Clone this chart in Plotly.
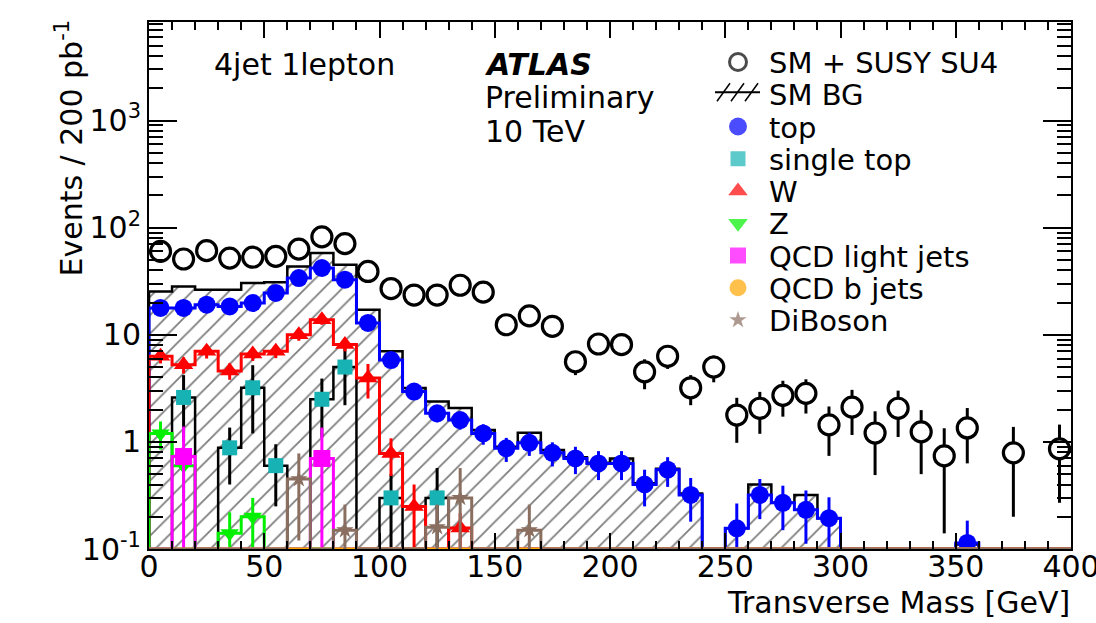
import numpy as np
import plotly.graph_objects as go

# ---------------- data ----------------
bin_low_edges = [0, 10, 20, 30, 40, 50, 60, 70, 80, 90,
                 100, 110, 120, 130, 140, 150, 160, 170, 180, 190,
                 200, 210, 220, 230, 240, 250, 260, 270, 280, 290,
                 300, 310, 320, 330, 340, 350, 360, 370, 380, 390]
bin_width = 10

sm_susy = [60, 51, 61, 52, 53, 54, 63, 82, 71, 39,
           27, 23.5, 23.5, 29, 25, 12.4, 15, 12, 5.6, 8.2,
           8.1, 4.5, 6.3, 3.2, 5.0, 1.78, 2.06, 2.72, 2.84, 1.44,
           2.11, 1.21, 2.06, 1.24, 0.74, 1.35, 0, 0.79, 0, 0.86]
sm_susy_err = [4.6, 4.3, 4.7, 4.3, 4.4, 4.4, 4.8, 5.4, 5.0, 3.7,
               3.1, 2.9, 2.9, 3.2, 3.0, 2.1, 2.3, 2.1, 1.4, 1.7,
               1.7, 1.4, 1.5, 1.0, 1.4, 0.8, 0.87, 1.0, 1.0, 0.7,
               0.95, 0.72, 0.95, 0.74, 0.6, 0.72, 0, 0.59, 0, 0.59]
sm_bg = [25.4, 28.3, 26.3, 26.3, 30.4, 31, 43.5, 58, 45, 17.1,
         7.0, 3.18, 2.38, 2.07, 1.29, 0.9, 1.22, 0.84, 0.72, 0.64,
         0.70, 0.41, 0.56, 0.33, 0, 0.156, 0.40, 0.27, 0.32, 0.194,
         0, 0, 0, 0, 0, 0.11, 0, 0, 0, 0]
top = [17.8, 17.8, 19.1, 18.4, 19.8, 24.6, 33.8, 42, 32.7, 12.9,
       5.8, 2.95, 1.85, 1.6, 1.2, 0.87, 0.98, 0.79, 0.70, 0.63,
       0.63, 0.40, 0.55, 0.32, 0, 0.156, 0.32, 0.27, 0.232, 0.194,
       0, 0, 0, 0, 0, 0.114, 0, 0, 0, 0]
top_err = [1.0, 1.0, 1.05, 1.0, 1.1, 1.2, 1.4, 1.6, 1.4, 0.9,
           0.6, 0.42, 0.33, 0.3, 0.26, 0.22, 0.24, 0.2, 0.2, 0.19,
           0.19, 0.15, 0.17, 0.14, 0, 0.11, 0.13, 0.12, 0.12, 0.11,
           0, 0, 0, 0, 0, 0.07, 0, 0, 0, 0]
single_top = [0, 2.6, 0, 0.88, 3.2, 0.6, 0, 2.5, 5.0, 0,
              0.3, 0, 0.3, 0, 0, 0, 0, 0, 0, 0,
              0, 0, 0, 0, 0, 0, 0, 0, 0, 0,
              0, 0, 0, 0, 0, 0, 0, 0, 0, 0]
single_top_err = [0, 1.6, 0, 0.48, 2.0, 0.35, 0, 1.4, 2.8, 0,
                  0.2, 0, 0.27, 0, 0, 0, 0, 0, 0, 0,
                  0, 0, 0, 0, 0, 0, 0, 0, 0, 0,
                  0, 0, 0, 0, 0, 0, 0, 0, 0, 0]
w_boson = [6.3, 5.25, 7.0, 4.6, 6.6, 7.0, 10, 13.8, 8.1, 3.94,
           0.78, 0.25, 0, 0.157, 0, 0, 0, 0, 0, 0,
           0, 0, 0, 0, 0, 0, 0, 0, 0, 0,
           0, 0, 0, 0, 0, 0, 0, 0, 0, 0]
w_err = [0.9, 0.9, 1.0, 0.8, 0.9, 0.95, 1.2, 1.4, 1.1, 1.4,
         0.3, 0.15, 0, 0.06, 0, 0, 0, 0, 0, 0,
         0, 0, 0, 0, 0, 0, 0, 0, 0, 0,
         0, 0, 0, 0, 0, 0, 0, 0, 0, 0]
z_boson = [1.2, 0.6, 0, 0.14, 0.2, 0, 0, 0, 0, 0,
           0, 0, 0, 0, 0, 0, 0, 0, 0, 0,
           0, 0, 0, 0, 0, 0, 0, 0, 0, 0,
           0, 0, 0, 0, 0, 0, 0, 0, 0, 0]
z_err = [0.35, 0.3, 0, 0.08, 0.1, 0, 0, 0, 0, 0,
         0, 0, 0, 0, 0, 0, 0, 0, 0, 0,
         0, 0, 0, 0, 0, 0, 0, 0, 0, 0,
         0, 0, 0, 0, 0, 0, 0, 0, 0, 0]
qcd_light = [0, 0.73, 0, 0, 0, 0, 0, 0.7, 0, 0,
             0, 0, 0, 0, 0, 0, 0, 0, 0, 0,
             0, 0, 0, 0, 0, 0, 0, 0, 0, 0,
             0, 0, 0, 0, 0, 0, 0, 0, 0, 0]
qcd_light_err = [0, 0.66, 0, 0, 0, 0, 0, 0.66, 0, 0,
                 0, 0, 0, 0, 0, 0, 0, 0, 0, 0,
                 0, 0, 0, 0, 0, 0, 0, 0, 0, 0,
                 0, 0, 0, 0, 0, 0, 0, 0, 0, 0]
qcd_b = [0, 0, 0, 0, 0, 0, 0, 0, 0, 0,
         0, 0, 0, 0, 0, 0, 0, 0, 0, 0,
         0, 0, 0, 0, 0, 0, 0, 0, 0, 0,
         0, 0, 0, 0, 0, 0, 0, 0, 0, 0]
diboson = [0, 0, 0, 0, 0, 0, 0.45, 0, 0.15, 0,
           0, 0, 0.16, 0.3, 0, 0, 0.15, 0, 0, 0,
           0, 0, 0, 0, 0, 0, 0, 0, 0, 0,
           0, 0, 0, 0, 0, 0, 0, 0, 0, 0]
diboson_err = [0, 0, 0, 0, 0, 0, 0.33, 0, 0.11, 0,
               0, 0, 0.1, 0.27, 0, 0, 0.11, 0, 0, 0,
               0, 0, 0, 0, 0, 0, 0, 0, 0, 0,
               0, 0, 0, 0, 0, 0, 0, 0, 0, 0]

legend_labels = ["SM + SUSY SU4", "SM BG", "top", "single top", "W", "Z",
                 "QCD light jets", "QCD b jets", "DiBoson"]
x_tick_vals = [0, 50, 100, 150, 200, 250, 300, 350, 400]
y_tick_vals = [0.1, 1, 10, 100, 1000]
y_tick_text = ["10<sup>-1</sup>", "1", "10", "10<sup>2</sup>", "10<sup>3</sup>"]

# ---------------- styling / layout constants ----------------
FONT = "DejaVu Sans"
W, H = 1096, 623
ML, MR, MT, MB = 149, 25, 22, 74
Y_LOG_MIN, Y_LOG_MAX = -1, 3.92
FLOOR = 10 ** Y_LOG_MIN

C_TOP = "#0000ff"
C_ST = "#17b2b4"
C_W = "#ff0000"
C_Z = "#00f000"
C_QL = "#ff00ff"
C_QB = "#ffa500"
C_DB = "#8a6e60"

edges = np.array(bin_low_edges + [bin_low_edges[-1] + bin_width], dtype=float)
centers = edges[:-1] + bin_width / 2.0


def step_xy(vals):
    v = np.maximum(np.asarray(vals, dtype=float), FLOOR)
    x = np.concatenate([[edges[0]], edges[:-1], [edges[-1], edges[-1]]])
    y = np.concatenate([[FLOOR], v, [v[-1], FLOOR]])
    return x, y


def step_trace(vals, color, width=3.0):
    x, y = step_xy(vals)
    return go.Scatter(x=x, y=y, mode="lines", line=dict(shape="hv", color=color, width=width),
                      hoverinfo="skip", showlegend=False)


def marker_trace(vals, errs, color, symbol, size, ecolor=None, line=None):
    v = np.asarray(vals, dtype=float)
    e = np.asarray(errs, dtype=float)
    mask = v > 0
    mk = dict(color=color, symbol=symbol, size=size)
    if line is not None:
        mk["line"] = line
    return go.Scatter(x=centers[mask], y=v[mask], mode="markers", marker=mk,
                      error_y=dict(type="data", array=e[mask], color=ecolor or color,
                                   thickness=3, width=0),
                      cliponaxis=True, hoverinfo="skip", showlegend=False)


fig = go.Figure()

# SM background: hatched histogram with black outline
xb, yb = step_xy(sm_bg)
fig.add_trace(go.Scatter(x=xb, y=yb, mode="lines", fill="toself",
                         fillcolor="rgba(255,255,255,0)",
                         fillpattern=dict(shape="/", fgcolor="black", bgcolor="white",
                                          size=13, solidity=0.14),
                         line=dict(shape="hv", color="black", width=2.5),
                         hoverinfo="skip", showlegend=False))

components = [
    (top, top_err, C_TOP, C_TOP, "circle", 18),
    (single_top, single_top_err, C_ST, "black", "square", 15),
    (w_boson, w_err, C_W, C_W, "triangle-up", 17),
    (z_boson, z_err, C_Z, C_Z, "triangle-down", 16),
    (qcd_light, qcd_light_err, C_QL, C_QL, "square", 17),
    (qcd_b, qcd_b, C_QB, C_QB, "circle", 16),
    (diboson, diboson_err, C_DB, C_DB, "star", 13),
]
for vals, errs, mcol, lcol, sym, size in components:
    fig.add_trace(step_trace(vals, lcol, 2.5 if lcol == "black" else 3.0))
    fig.add_trace(marker_trace(vals, errs, mcol, sym, size, ecolor=lcol))

# SM + SUSY: open (white-filled) circles with error bars
fig.add_trace(marker_trace(sm_susy, sm_susy_err, "white", "circle", 20,
                           ecolor="black", line=dict(color="black", width=3.2)))

# ---------------- manual legend (pixel-space overlay axes) ----------------
LEG_SYM_X = 738
LEG_TXT_X = 767
LEG_Y0 = 62
LEG_DY = 32.25
rows = [LEG_Y0 + i * LEG_DY for i in range(len(legend_labels))]

sym_rows = [0, 2, 3, 4, 5, 6, 7, 8]
sym_symbols = ["circle", "circle", "square", "triangle-up", "triangle-down",
               "square", "circle", "star"]
sym_fill = ["white", C_TOP, C_ST, C_W, C_Z, C_QL, C_QB, C_DB]
sym_line = ["black", C_TOP, C_ST, C_W, C_Z, C_QL, C_QB, C_DB]
sym_sizes = [17, 18, 15, 17, 17, 16, 17, 13]
fig.add_trace(go.Scatter(x=[LEG_SYM_X] * len(sym_rows), y=[rows[i] for i in sym_rows],
                         xaxis="x2", yaxis="y2", mode="markers",
                         marker=dict(symbol=sym_symbols, color=sym_fill, size=sym_sizes,
                                     line=dict(color=sym_line, width=[3, 0, 0, 0, 0, 0, 0, 0])),
                         hoverinfo="skip", showlegend=False, cliponaxis=False))

shapes = []
ry = rows[1] - 2
shapes.append(dict(type="line", xref="x2", yref="y2", x0=715, x1=760, y0=ry, y1=ry,
                   line=dict(color="black", width=2)))
for k in range(3):
    x0 = 717 + 14 * k
    shapes.append(dict(type="line", xref="x2", yref="y2", x0=x0, x1=x0 + 13,
                       y0=ry + 9, y1=ry - 9, line=dict(color="black", width=1.5)))

annotations = []
for lab, ry_ in zip(legend_labels, rows):
    annotations.append(dict(xref="x2", yref="y2", x=LEG_TXT_X, y=ry_ + 1, text=lab,
                            showarrow=False, xanchor="left", yanchor="middle",
                            font=dict(family=FONT, size=29, color="black")))


def px_x(p):
    return (p - ML) / (W - ML - MR)


def px_y(p):
    return (H - MB - p) / (H - MT - MB)


def text_ann(txt, x, y, size=30, xanchor="left", angle=0, yanchor="middle"):
    return dict(xref="paper", yref="paper", x=px_x(x), y=px_y(y), text=txt, showarrow=False,
                xanchor=xanchor, yanchor=yanchor, textangle=angle,
                font=dict(family=FONT, size=size, color="black"))


annotations += [
    text_ann("4jet 1lepton", 212, 65),
    text_ann("<b><i>ATLAS</i></b>", 483, 65),
    text_ann("Preliminary", 483, 98),
    text_ann("10 TeV", 483, 131),
    text_ann("Transverse Mass [GeV]", 1072, 602, size=30, xanchor="right"),
    text_ann("Events / 200 pb<sup>-1</sup>", 70, 18, size=30, xanchor="center",
             angle=-90, yanchor="top"),
]

minor_y = [k * 10.0 ** e for e in range(-1, 4) for k in range(2, 10)]

axis_common = dict(showline=True, linecolor="black", linewidth=2, mirror="allticks",
                   ticks="inside", tickcolor="black", tickwidth=2, showgrid=False,
                   zeroline=False, automargin=False,
                   tickfont=dict(family=FONT, size=30, color="black"))

fig.update_layout(
    width=W, height=H,
    margin=dict(l=ML, r=MR, t=MT, b=MB, pad=0, autoexpand=False),
    paper_bgcolor="white", plot_bgcolor="white",
    showlegend=False,
    xaxis=dict(range=[edges[0], edges[-1]], tickvals=x_tick_vals, ticklen=16,
               ticklabelstandoff=-10, ticklabeloverflow="allow",
               minor=dict(dtick=bin_width, tick0=0, ticklen=8, tickwidth=1.5,
                          ticks="inside", tickcolor="black"),
               **axis_common),
    yaxis=dict(type="log", range=[Y_LOG_MIN, Y_LOG_MAX], tickvals=y_tick_vals,
               ticktext=y_tick_text, ticklen=28, ticklabelstandoff=0,
               minor=dict(tickvals=minor_y, ticklen=14, tickwidth=1.5,
                          ticks="inside", tickcolor="black"),
               **axis_common),
    xaxis2=dict(overlaying="x", range=[ML, W - MR], visible=False, fixedrange=True),
    yaxis2=dict(overlaying="y", range=[H - MB, MT], visible=False, fixedrange=True),
    shapes=shapes,
    annotations=annotations,
)

fig.write_html("out.html")
